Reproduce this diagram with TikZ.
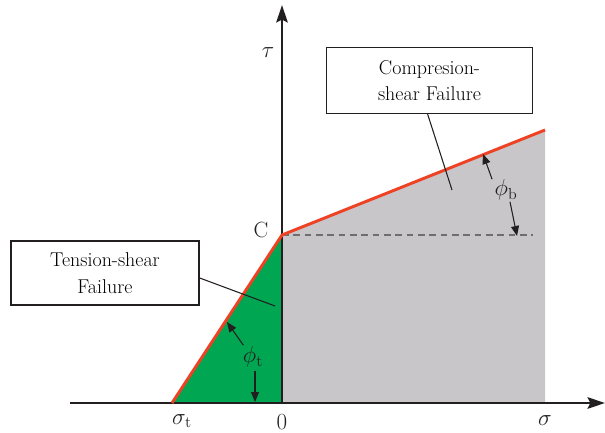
\documentclass[tikz,border=0pt]{standalone}
\usepackage{amsmath}
\usetikzlibrary{arrows.meta,positioning}
\definecolor{ink}{RGB}{35,31,32}
\definecolor{failR}{RGB}{239,65,35}
\definecolor{tenG}{RGB}{0,166,81}
\definecolor{compG}{RGB}{200,198,200}
\definecolor{dashG}{RGB}{110,110,110}
\tikzset{
  axis/.style={-{Stealth[length=13pt,width=8.5pt,inset=2pt]},line width=2.2pt,ink},
  env/.style={failR,line width=2.2pt,line join=round},
  box/.style={draw=ink,fill=white,line width=0.9pt,inner sep=0pt,
    minimum width=141pt,minimum height=48pt,align=center,
    font=\fontsize{15}{20}\selectfont},
  lead/.style={ink,line width=0.8pt},
  ang/.style={-{Triangle[length=7.5pt,width=6pt]},ink,line width=0.8pt},
  lbl/.style={text=ink,inner sep=1pt,font=\fontsize{16.5}{18}\selectfont},
}

\begin{document}
\begin{tikzpicture}[x=0.75pt,y=-0.75pt]
  \useasboundingbox (0,0) rectangle (605,432);
  % key points
  \coordinate (O) at (282,403);
  \coordinate (C) at (282,235);
  \coordinate (T) at (172,403);
  \coordinate (B) at (545,130);
  \coordinate (Bb) at (545,403);
  \coordinate (D) at (533,235);
  \coordinate (xl) at (70,403);
  \coordinate (xr) at (605,403);
  \coordinate (yt) at (282,5);
  % failure regions
  \fill[compG] (C) -- (B) -- (Bb) -- (O) -- cycle;
  \fill[tenG] (T) -- (C) -- (O) -- cycle;
  \draw[dashG,line width=1pt,dash pattern=on 5pt off 3.5pt] (C) -- (D);
  % axes
  \draw[axis] (xl) -- (xr);
  \draw[axis] (O) -- (yt);
  % envelope
  \draw[env] (T) -- (C) -- (B);
  % boxes and leaders
  \node[box] (tbox) at (105,273) {Tension-shear\\Failure};
  \node[box,minimum width=154pt,minimum height=49pt] (cbox) at (429.5,80.5)
    {Compresion-\\shear Failure};
  \coordinate (tend) at (275,306);
  \coordinate (cend) at (452,190);
  \draw[lead] (tbox.-3) -- (tend);
  \draw[lead] (cbox.south) ++(-2,0) -- (cend);
  % axis labels
  \node[lbl] (tau) at (268,53) {$\tau$};
  \node[lbl] (sig) at (545,421) {$\sigma$};
  \node[lbl] (sigt) at (182,421) {$\sigma_{\mathrm{t}}$};
  \node[lbl] (zero) at (282,422) {$0$};
  \node[lbl] (clbl) at (261,230) {C};
  % friction angles
  \node[lbl] (phib) at (506,190) {$\phi_{\mathrm{b}}$};
  \coordinate (pb1) at (483,154);
  \coordinate (pb2) at (517,236);
  \draw[ang] (phib.north west) ++(-1,1) -- (pb1);
  \draw[ang] (phib.south) ++(4,0) -- (pb2);
  \node[lbl] (phit) at (253,357) {$\phi_{\mathrm{t}}$};
  \coordinate (pt1) at (227,322);
  \coordinate (pt2) at (255,402);
  \draw[ang] (phit.north west) ++(2,0) -- (pt1);
  \draw[ang] (phit.south) ++(2,2) -- (pt2);
\end{tikzpicture}
\end{document}
